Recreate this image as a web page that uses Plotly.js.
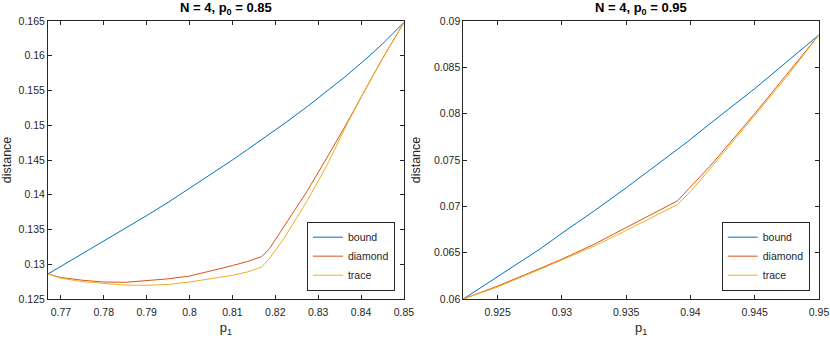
<!DOCTYPE html>
<html>
<head>
<meta charset="utf-8">
<script src="https://cdn.plot.ly/plotly-3.0.1.min.js"></script>
<style>
  html, body { margin: 0; padding: 0; background: #fff; }
  #chart { width: 830px; height: 339px; }
</style>
</head>
<body>
<div id="chart"></div>
<script>
// left panel, p0 = 0.85
var p1Left = [0.767, 0.77, 0.775, 0.78, 0.785, 0.79, 0.795, 0.80, 0.805, 0.81, 0.8135, 0.8168, 0.8186, 0.822, 0.8275, 0.832, 0.8365, 0.8405, 0.845, 0.85];
var boundLeft = [0.1286, 0.1297, 0.1315, 0.1333, 0.1351, 0.1370, 0.1389, 0.1409, 0.1429, 0.1450, 0.1465, 0.1479, 0.1487, 0.1502, 0.1527, 0.1549, 0.1571, 0.1592, 0.1617, 0.1648];
var diamondLeft = [0.1286, 0.1281, 0.1277, 0.12745, 0.1274, 0.1276, 0.1279, 0.1283, 0.1290, 0.1298, 0.1304, 0.1311, 0.1322, 0.1354, 0.1406, 0.1453, 0.1501, 0.1546, 0.1596, 0.1648];
var traceLeft = [0.1286, 0.1280, 0.1275, 0.1272, 0.1270, 0.12697, 0.1271, 0.12745, 0.1279, 0.1284, 0.1289, 0.1296, 0.1308, 0.1337, 0.1392, 0.1442, 0.1499, 0.1546, 0.1596, 0.1648];

// right panel, p0 = 0.95
var p1Right = [0.92233, 0.925, 0.9283, 0.93, 0.9325, 0.935, 0.9375, 0.939, 0.9398, 0.9415, 0.945, 0.9475, 0.95];
var boundRight = [0.0600, 0.0624, 0.0654, 0.0671, 0.0695, 0.0720, 0.0746, 0.0762, 0.0770, 0.0789, 0.0827, 0.0856, 0.0885];
var diamondRight = [0.0600, 0.0614, 0.0633, 0.0643, 0.0659, 0.0677, 0.0695, 0.0706, 0.0718, 0.0743, 0.0800, 0.0842, 0.0885];
var traceRight = [0.0600, 0.0613, 0.0632, 0.0642, 0.0657, 0.0674, 0.0692, 0.0702, 0.0713, 0.0740, 0.0798, 0.0840, 0.0885];

// tick labels
var xTicksLeft = [0.77, 0.78, 0.79, 0.8, 0.81, 0.82, 0.83, 0.84, 0.85];
var yTicksLeft = [0.125, 0.13, 0.135, 0.14, 0.145, 0.15, 0.155, 0.16, 0.165];
var xTicksRight = [0.925, 0.93, 0.935, 0.94, 0.945, 0.95];
var yTicksRight = [0.06, 0.065, 0.07, 0.075, 0.08, 0.085, 0.09];

var seriesNames = ['bound', 'diamond', 'trace'];
var colors = ['#0072BD', '#D95319', '#EDB120'];

var dark = '#262626';
var fontFam = '"Liberation Sans", Arial, Helvetica, sans-serif';

function mkTrace(x, y, i, xa, ya, leg) {
    return {
        x: x, y: y,
        name: seriesNames[i],
        type: 'scatter', mode: 'lines',
        line: { color: colors[i], width: 1 },
        xaxis: xa, yaxis: ya,
        legend: leg
    };
}

var data = [
    mkTrace(p1Left, boundLeft, 0, 'x', 'y', 'legend'),
    mkTrace(p1Left, diamondLeft, 1, 'x', 'y', 'legend'),
    mkTrace(p1Left, traceLeft, 2, 'x', 'y', 'legend'),
    mkTrace(p1Right, boundRight, 0, 'x2', 'y2', 'legend2'),
    mkTrace(p1Right, diamondRight, 1, 'x2', 'y2', 'legend2'),
    mkTrace(p1Right, traceRight, 2, 'x2', 'y2', 'legend2')
];

function xAxis(range, ticks, dom, anchor) {
    return {
        domain: dom, range: range, anchor: anchor,
        tickvals: ticks, ticktext: ticks.map(String),
        ticks: 'inside', ticklen: 4, tickcolor: dark, tickwidth: 1,
        showline: true, linecolor: dark, linewidth: 1, mirror: 'ticks',
        showgrid: false, zeroline: false,
        ticklabelstandoff: 3,
        tickfont: { size: 10.5, color: dark, family: fontFam },
        title: { text: 'p<sub>1</sub>', font: { size: 13, color: dark, family: fontFam }, standoff: 6 }
    };
}

function yAxis(range, ticks, anchor, gap) {
    return {
        domain: [0, 1], range: range, anchor: anchor,
        tickvals: ticks, ticktext: ticks.map(String),
        ticks: 'inside', ticklen: 4, tickcolor: dark, tickwidth: 1,
        showline: true, linecolor: dark, linewidth: 1, mirror: 'ticks',
        showgrid: false, zeroline: false,
        tickfont: { size: 10.5, color: dark, family: fontFam },
        title: { text: 'distance', font: { size: 12.5, color: dark, family: fontFam }, standoff: gap }
    };
}

function legendBox(x) {
    return {
        x: x, y: 0.03, xanchor: 'right', yanchor: 'bottom',
        xref: 'paper', yref: 'paper',
        bgcolor: '#ffffff', bordercolor: dark, borderwidth: 1,
        font: { size: 10.5, color: dark, family: fontFam },
        itemwidth: 30
    };
}

var layout = {
    width: 830, height: 339,
    margin: { l: 48, r: 11, t: 21, b: 40 },
    paper_bgcolor: '#ffffff', plot_bgcolor: '#ffffff',
    font: { family: fontFam, color: dark },
    xaxis: xAxis([0.767, 0.85], xTicksLeft, [0, 0.4617], 'y'),
    yaxis: yAxis([0.125, 0.165], yTicksLeft, 'x', 5),
    xaxis2: xAxis([0.92233, 0.95], xTicksRight, [0.5387, 1], 'y2'),
    yaxis2: yAxis([0.06, 0.09], yTicksRight, 'x2', 10),
    legend: legendBox(0.45),
    legend2: legendBox(0.988),
    showlegend: true,
    annotations: [
        { text: '<b>N = 4, p<sub>0</sub> = 0.85</b>', xref: 'x domain', yref: 'paper', x: 0.5, y: 1.045,
          xanchor: 'center', yanchor: 'middle', showarrow: false,
          font: { size: 13, color: '#000', family: fontFam } },
        { text: '<b>N = 4, p<sub>0</sub> = 0.95</b>', xref: 'x2 domain', yref: 'paper', x: 0.5, y: 1.045,
          xanchor: 'center', yanchor: 'middle', showarrow: false,
          font: { size: 13, color: '#000', family: fontFam } }
    ]
};

Plotly.newPlot('chart', data, layout, { staticPlot: true });
</script>
</body>
</html>
